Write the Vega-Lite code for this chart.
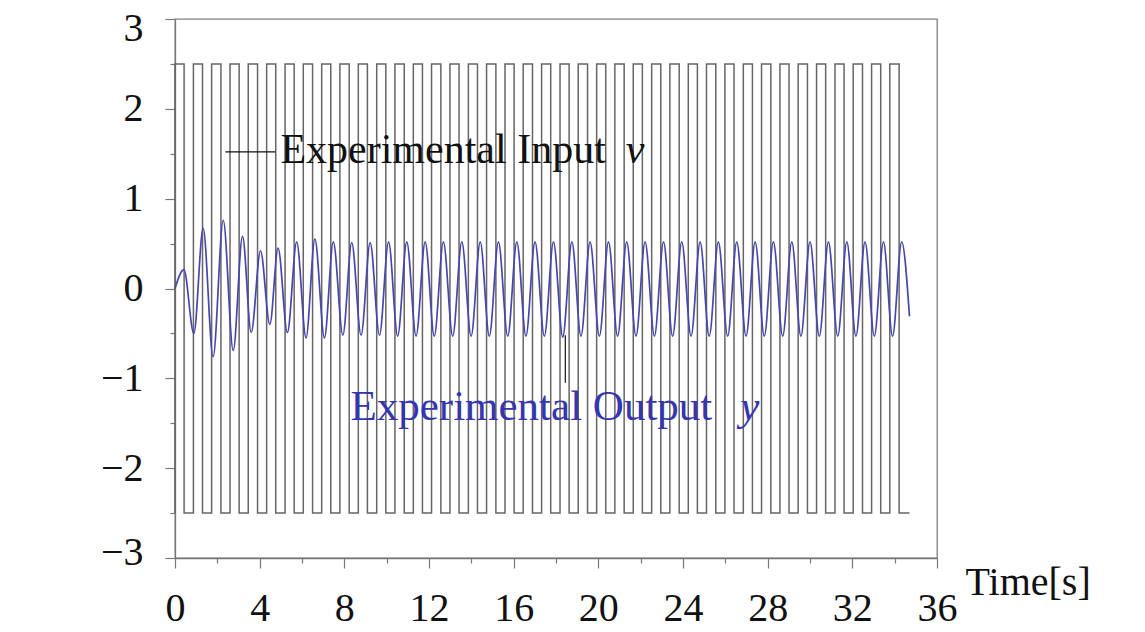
{
  "$schema": "https://vega.github.io/schema/vega-lite/v6.json",
  "width": 762,
  "height": 539,
  "autosize": "none",
  "padding": {"left": 175, "top": 19, "right": 208, "bottom": 74},
  "background": "white",
  "config": {
    "view": {"stroke": "#808080", "strokeWidth": 1.3},
    "font": "Liberation Serif"
  },
  "datasets": {
    "input": [
      {"t":0,"v":-2.5},{"t":0,"v":2.5},{"t":0.43,"v":2.5},{"t":0.43,"v":-2.5},
      {"t":0.87,"v":-2.5},{"t":0.87,"v":2.5},{"t":1.30,"v":2.5},{"t":1.30,"v":-2.5},
      {"t":1.73,"v":-2.5},{"t":1.73,"v":2.5},{"t":2.17,"v":2.5},{"t":2.17,"v":-2.5},
      {"t":2.60,"v":-2.5},{"t":2.60,"v":2.5},{"t":3.03,"v":2.5},{"t":3.03,"v":-2.5},
      {"t":3.46,"v":-2.5},{"t":3.46,"v":2.5},{"t":3.90,"v":2.5},{"t":3.90,"v":-2.5},
      {"t":4.33,"v":-2.5},{"t":4.33,"v":2.5},{"t":4.76,"v":2.5},{"t":4.76,"v":-2.5},
      {"t":5.20,"v":-2.5},{"t":5.20,"v":2.5},{"t":5.63,"v":2.5},{"t":5.63,"v":-2.5},
      {"t":6.06,"v":-2.5},{"t":6.06,"v":2.5},{"t":6.50,"v":2.5},{"t":6.50,"v":-2.5},
      {"t":6.93,"v":-2.5},{"t":6.93,"v":2.5},{"t":7.36,"v":2.5},{"t":7.36,"v":-2.5},
      {"t":7.79,"v":-2.5},{"t":7.79,"v":2.5},{"t":8.23,"v":2.5},{"t":8.23,"v":-2.5},
      {"t":8.66,"v":-2.5},{"t":8.66,"v":2.5},{"t":9.09,"v":2.5},{"t":9.09,"v":-2.5},
      {"t":9.53,"v":-2.5},{"t":9.53,"v":2.5},{"t":9.96,"v":2.5},{"t":9.96,"v":-2.5},
      {"t":10.39,"v":-2.5},{"t":10.39,"v":2.5},{"t":10.83,"v":2.5},{"t":10.83,"v":-2.5},
      {"t":11.26,"v":-2.5},{"t":11.26,"v":2.5},{"t":11.69,"v":2.5},{"t":11.69,"v":-2.5},
      {"t":12.12,"v":-2.5},{"t":12.12,"v":2.5},{"t":12.56,"v":2.5},{"t":12.56,"v":-2.5},
      {"t":12.99,"v":-2.5},{"t":12.99,"v":2.5},{"t":13.42,"v":2.5},{"t":13.42,"v":-2.5},
      {"t":13.86,"v":-2.5},{"t":13.86,"v":2.5},{"t":14.29,"v":2.5},{"t":14.29,"v":-2.5},
      {"t":14.72,"v":-2.5},{"t":14.72,"v":2.5},{"t":15.16,"v":2.5},{"t":15.16,"v":-2.5},
      {"t":15.59,"v":-2.5},{"t":15.59,"v":2.5},{"t":16.02,"v":2.5},{"t":16.02,"v":-2.5},
      {"t":16.45,"v":-2.5},{"t":16.45,"v":2.5},{"t":16.89,"v":2.5},{"t":16.89,"v":-2.5},
      {"t":17.32,"v":-2.5},{"t":17.32,"v":2.5},{"t":17.75,"v":2.5},{"t":17.75,"v":-2.5},
      {"t":18.19,"v":-2.5},{"t":18.19,"v":2.5},{"t":18.62,"v":2.5},{"t":18.62,"v":-2.5},
      {"t":19.05,"v":-2.5},{"t":19.05,"v":2.5},{"t":19.49,"v":2.5},{"t":19.49,"v":-2.5},
      {"t":19.92,"v":-2.5},{"t":19.92,"v":2.5},{"t":20.35,"v":2.5},{"t":20.35,"v":-2.5},
      {"t":20.78,"v":-2.5},{"t":20.78,"v":2.5},{"t":21.22,"v":2.5},{"t":21.22,"v":-2.5},
      {"t":21.65,"v":-2.5},{"t":21.65,"v":2.5},{"t":22.08,"v":2.5},{"t":22.08,"v":-2.5},
      {"t":22.52,"v":-2.5},{"t":22.52,"v":2.5},{"t":22.95,"v":2.5},{"t":22.95,"v":-2.5},
      {"t":23.38,"v":-2.5},{"t":23.38,"v":2.5},{"t":23.82,"v":2.5},{"t":23.82,"v":-2.5},
      {"t":24.25,"v":-2.5},{"t":24.25,"v":2.5},{"t":24.68,"v":2.5},{"t":24.68,"v":-2.5},
      {"t":25.11,"v":-2.5},{"t":25.11,"v":2.5},{"t":25.55,"v":2.5},{"t":25.55,"v":-2.5},
      {"t":25.98,"v":-2.5},{"t":25.98,"v":2.5},{"t":26.41,"v":2.5},{"t":26.41,"v":-2.5},
      {"t":26.85,"v":-2.5},{"t":26.85,"v":2.5},{"t":27.28,"v":2.5},{"t":27.28,"v":-2.5},
      {"t":27.71,"v":-2.5},{"t":27.71,"v":2.5},{"t":28.15,"v":2.5},{"t":28.15,"v":-2.5},
      {"t":28.58,"v":-2.5},{"t":28.58,"v":2.5},{"t":29.01,"v":2.5},{"t":29.01,"v":-2.5},
      {"t":29.44,"v":-2.5},{"t":29.44,"v":2.5},{"t":29.88,"v":2.5},{"t":29.88,"v":-2.5},
      {"t":30.31,"v":-2.5},{"t":30.31,"v":2.5},{"t":30.74,"v":2.5},{"t":30.74,"v":-2.5},
      {"t":31.18,"v":-2.5},{"t":31.18,"v":2.5},{"t":31.61,"v":2.5},{"t":31.61,"v":-2.5},
      {"t":32.04,"v":-2.5},{"t":32.04,"v":2.5},{"t":32.48,"v":2.5},{"t":32.48,"v":-2.5},
      {"t":32.91,"v":-2.5},{"t":32.91,"v":2.5},{"t":33.34,"v":2.5},{"t":33.34,"v":-2.5},
      {"t":33.77,"v":-2.5},{"t":33.77,"v":2.5},{"t":34.21,"v":2.5},{"t":34.21,"v":-2.5},
      {"t":34.70,"v":-2.5}
    ],
    "output": [
      {"t":0,"y":0},{"t":0.42,"y":0.21},{"t":0.89,"y":-0.50},{"t":1.33,"y":0.67},
      {"t":1.80,"y":-0.76},{"t":2.28,"y":0.76},{"t":2.75,"y":-0.69},{"t":3.19,"y":0.58},
      {"t":3.60,"y":-0.49},{"t":4.04,"y":0.42},{"t":4.48,"y":-0.40},{"t":4.87,"y":0.45},
      {"t":5.31,"y":-0.49},{"t":5.75,"y":0.52},{"t":6.19,"y":-0.55},{"t":6.61,"y":0.55},
      {"t":7.06,"y":-0.55},{"t":7.48,"y":0.52},{"t":7.93,"y":-0.52},{"t":8.35,"y":0.51},
      {"t":8.79,"y":-0.52},{"t":9.22,"y":0.51},{"t":9.66,"y":-0.52},{"t":10.09,"y":0.52},
      {"t":10.52,"y":-0.53},{"t":10.95,"y":0.52},{"t":11.39,"y":-0.53},{"t":11.82,"y":0.52},
      {"t":12.25,"y":-0.53},{"t":12.68,"y":0.52},{"t":13.12,"y":-0.53},{"t":13.55,"y":0.52},
      {"t":13.99,"y":-0.53},{"t":14.42,"y":0.52},{"t":14.85,"y":-0.53},{"t":15.28,"y":0.52},
      {"t":15.72,"y":-0.53},{"t":16.15,"y":0.52},{"t":16.58,"y":-0.53},{"t":17.01,"y":0.52},
      {"t":17.45,"y":-0.53},{"t":17.88,"y":0.52},{"t":18.32,"y":-0.54},{"t":18.75,"y":0.52},
      {"t":19.18,"y":-0.53},{"t":19.61,"y":0.52},{"t":20.05,"y":-0.53},{"t":20.48,"y":0.52},
      {"t":20.91,"y":-0.53},{"t":21.34,"y":0.52},{"t":21.78,"y":-0.53},{"t":22.21,"y":0.52},
      {"t":22.65,"y":-0.53},{"t":23.08,"y":0.52},{"t":23.51,"y":-0.53},{"t":23.94,"y":0.52},
      {"t":24.38,"y":-0.53},{"t":24.81,"y":0.52},{"t":25.24,"y":-0.53},{"t":25.67,"y":0.52},
      {"t":26.11,"y":-0.53},{"t":26.54,"y":0.52},{"t":26.98,"y":-0.53},{"t":27.41,"y":0.52},
      {"t":27.84,"y":-0.53},{"t":28.27,"y":0.52},{"t":28.71,"y":-0.53},{"t":29.14,"y":0.52},
      {"t":29.57,"y":-0.53},{"t":30.00,"y":0.52},{"t":30.44,"y":-0.53},{"t":30.87,"y":0.52},
      {"t":31.31,"y":-0.53},{"t":31.74,"y":0.52},{"t":32.17,"y":-0.53},{"t":32.60,"y":0.52},
      {"t":33.04,"y":-0.53},{"t":33.47,"y":0.52},{"t":33.90,"y":-0.53},{"t":34.33,"y":0.52},
      {"t":34.70,"y":-0.31}
    ]
  },
  "layer": [
    {
      "data": {"name": "input"},
      "mark": {"type": "line", "color": "#666666", "strokeWidth": 1.5},
      "encoding": {
        "x": {
          "field": "t", "type": "quantitative",
          "scale": {"domain": [0, 36], "nice": false, "zero": false},
          "axis": {
            "values": [0,2,4,6,8,10,12,14,16,18,20,22,24,26,28,30,32,34,36],
            "labelExpr": "datum.value % 4 === 0 ? datum.label : ''",
            "format": "d",
            "grid": false,
            "labelFlush": false,
            "labelFontSize": 40,
            "labelFont": "Liberation Serif",
            "labelColor": "#111111",
            "labelPadding": 20,
            "tickSize": {"condition": {"test": "datum.value % 4 === 0", "value": 10}, "value": 5},
            "tickColor": "#777777",
            "tickWidth": 1.2,
            "domainColor": "#777777",
            "domainWidth": 1.3,
            "title": "Time[s]",
            "titleFont": "Liberation Serif",
            "titleFontSize": 40,
            "titleFontWeight": "normal",
            "titleColor": "#111111",
            "titleAnchor": null,
            "titleAlign": "left",
            "titleBaseline": "alphabetic",
            "titleX": 790,
            "titleY": 36,
            "labelOverlap": false
          }
        },
        "y": {
          "field": "v", "type": "quantitative",
          "scale": {"domain": [-3, 3], "nice": false, "zero": false},
          "axis": {
            "values": [-3,-2.5,-2,-1.5,-1,-0.5,0,0.5,1,1.5,2,2.5,3],
            "labelExpr": "datum.value % 1 === 0 ? datum.label : ''",
            "format": ".0f",
            "grid": false,
            "labelFontSize": 40,
            "labelFont": "Liberation Serif",
            "labelColor": "#111111",
            "labelPadding": 22,
            "labelOffset": {"condition": [{"test": "datum.value === 3", "value": 9}, {"test": "datum.value === -3", "value": -6}], "value": 0},
            "tickSize": {"condition": {"test": "datum.value % 1 === 0", "value": 10}, "value": 5},
            "tickColor": "#777777",
            "tickWidth": 1.2,
            "domainColor": "#777777",
            "domainWidth": 1.3,
            "title": null,
            "labelOverlap": false
          }
        },
        "order": {"value": null}
      }
    },
    {
      "data": {"name": "output"},
      "mark": {"type": "line", "color": "#4646ad", "strokeWidth": 1.7, "interpolate": "monotone"},
      "encoding": {
        "x": {"field": "t", "type": "quantitative"},
        "y": {"field": "y", "type": "quantitative"}
      }
    },
    {
      "data": {"values": [{"x1": 2.38, "x2": 4.74, "y1": 1.52, "y2": 1.52}, {"x1": 18.44, "x2": 18.44, "y1": -0.52, "y2": -1.05}]},
      "mark": {"type": "rule", "color": "#111111", "strokeWidth": 1.2},
      "encoding": {
        "x": {"field": "x1", "type": "quantitative"},
        "x2": {"field": "x2"},
        "y": {"field": "y1", "type": "quantitative"},
        "y2": {"field": "y2"}
      }
    },
    {
      "data": {"values": [{"t": 4.98, "y": 1.40, "label": "Experimental Input"}]},
      "mark": {"type": "text", "align": "left", "baseline": "alphabetic", "font": "Liberation Serif", "fontSize": 42, "color": "#111111"},
      "encoding": {
        "x": {"field": "t", "type": "quantitative"},
        "y": {"field": "y", "type": "quantitative"},
        "text": {"field": "label"}
      }
    },
    {
      "data": {"values": [{"t": 21.3, "y": 1.40, "label": "v"}]},
      "mark": {"type": "text", "align": "left", "baseline": "alphabetic", "font": "Liberation Serif", "fontStyle": "italic", "fontSize": 42, "color": "#111111"},
      "encoding": {
        "x": {"field": "t", "type": "quantitative"},
        "y": {"field": "y", "type": "quantitative"},
        "text": {"field": "label"}
      }
    },
    {
      "data": {"values": [{"t": 8.29, "y": -1.46, "label": "Experimental Output"}]},
      "mark": {"type": "text", "align": "left", "baseline": "alphabetic", "font": "Liberation Serif", "fontSize": 43, "color": "#3535b0"},
      "encoding": {
        "x": {"field": "t", "type": "quantitative"},
        "y": {"field": "y", "type": "quantitative"},
        "text": {"field": "label"}
      }
    },
    {
      "data": {"values": [{"t": 26.7, "y": -1.46, "label": "y"}]},
      "mark": {"type": "text", "align": "left", "baseline": "alphabetic", "font": "Liberation Serif", "fontStyle": "italic", "fontSize": 43, "color": "#3535b0"},
      "encoding": {
        "x": {"field": "t", "type": "quantitative"},
        "y": {"field": "y", "type": "quantitative"},
        "text": {"field": "label"}
      }
    }
  ]
}
